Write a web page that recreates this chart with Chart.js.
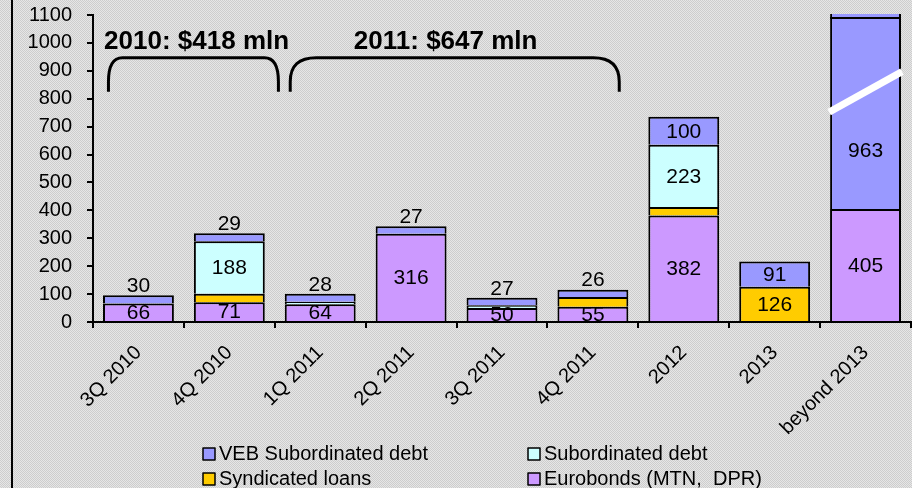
<!DOCTYPE html>
<html><head><meta charset="utf-8">
<script src="https://cdn.jsdelivr.net/npm/chart.js@4"></script>
<style>html,body{margin:0;padding:0;background:#dddddd;}canvas{display:block}</style>
</head><body>
<canvas id="c" width="912" height="488"></canvas>
<script>
// ---- data ----
const categories = ['3Q 2010','4Q 2010','1Q 2011','2Q 2011','3Q 2011','4Q 2011','2012','2013','beyond 2013'];
const eurobonds    = [66, 71, 64, 316, 50, 55, 382, null, 405];
const syndicated   = [null, 30, null, null, null, 35, 30, 126, null];
const subordinated = [null, 188, 9, null, 10, null, 223, null, null];
const vebSub       = [30, 29, 28, 27, 27, 26, 100, 91, 963];
const seriesNames  = ['Eurobonds (MTN,  DPR)', 'Syndicated loans', 'Subordinated debt', 'VEB Subordinated debt'];
const seriesColors = ['#cc99ff', '#ffcc00', '#ccffff', '#9999ff'];
const yMax = 1100, yStep = 100;
const periodTitles = ['2010: $418 mln', '2011: $647 mln'];
const periodFrom   = [-0.33, 1.67];   // category index units
const periodTo     = [1.54, 5.29];
const periodTitleAt = [0.64, 3.38];
const braceLow = 825, braceHigh = 947, titleValue = 1005;
const breakCategory = 'beyond 2013';
const breakFrom = 752, breakTo = 897;

const FONT = "'Liberation Sans', Arial, sans-serif";

function makePattern(ctx){
  const p = document.createElement('canvas'); p.width = 2; p.height = 2;
  const g = p.getContext('2d');
  g.fillStyle = '#e6e6e6'; g.fillRect(0,0,2,2);
  g.fillStyle = '#cdcdcd'; g.fillRect(0,0,1,1); g.fillRect(1,1,1,1);
  return ctx.createPattern(p, 'repeat');
}

const bgPlugin = {
  id: 'bg',
  beforeDraw(chart){
    const ctx = chart.ctx;
    ctx.save();
    ctx.fillStyle = makePattern(ctx);
    ctx.fillRect(0,0,chart.width,chart.height);
    ctx.fillStyle = '#000';
    ctx.fillRect(11,0,2,chart.height);
    ctx.restore();
  }
};

const datasetList = [eurobonds, syndicated, subordinated, vebSub];

const breakPlugin = {
  id: 'breakMark',
  afterDatasetsDraw(chart){
    const idx = categories.indexOf(breakCategory);
    if (idx < 0) return;
    const meta = chart.getDatasetMeta(datasetList.length - 1);
    const bar = meta.data[idx];
    const p = bar.getProps(['x','width'], true);
    const ys = chart.scales.y, area = chart.chartArea;
    const l = p.x - p.width/2, r = p.x + p.width/2;
    const ctx = chart.ctx;
    ctx.save();
    ctx.strokeStyle = '#000'; ctx.lineWidth = 2;
    ctx.beginPath(); ctx.moveTo(l, area.top + 3); ctx.lineTo(r, area.top + 3); ctx.stroke();
    ctx.strokeStyle = '#fff'; ctx.lineWidth = 7; ctx.lineCap = 'butt';
    ctx.beginPath();
    ctx.moveTo(l - 1, ys.getPixelForValue(breakFrom));
    ctx.lineTo(r + 1, ys.getPixelForValue(breakTo));
    ctx.stroke();
    ctx.restore();
  }
};

const labelPlugin = {
  id: 'valueLabels',
  afterDatasetsDraw(chart){
    const ctx = chart.ctx, area = chart.chartArea, ys = chart.scales.y;
    ctx.save();
    ctx.font = '21px ' + FONT;
    ctx.fillStyle = '#000';
    ctx.textAlign = 'center';
    ctx.textBaseline = 'middle';
    const top = datasetList.length - 1;
    chart.data.datasets.forEach((ds, di) => {
      const meta = chart.getDatasetMeta(di);
      meta.data.forEach((bar, i) => {
        const v = ds.data[i];
        if (v == null) return;
        const p = bar.getProps(['x','y','base'], true);
        let ty;
        if (di === top && v < 40) {
          ty = p.y - 10;
        } else if (v >= 40) {
          let t = p.y;
          if (t < area.top && categories[i] === breakCategory) {
            t = ys.getPixelForValue((breakFrom + breakTo) / 2);
          }
          ty = (t + p.base) / 2;
        } else return;
        ctx.fillText(String(v), p.x, ty + 1);
      });
    });
    ctx.restore();
  }
};

const annotPlugin = {
  id: 'periods',
  afterDraw(chart){
    const ctx = chart.ctx, xs = chart.scales.x, ys = chart.scales.y;
    ctx.save();
    ctx.strokeStyle = '#000'; ctx.lineWidth = 3; ctx.lineJoin = 'round';
    const yb = ys.getPixelForValue(braceLow), yt = ys.getPixelForValue(braceHigh);
    periodTitles.forEach((t, k) => {
      const x1 = xs.getPixelForValue(periodFrom[k]), x2 = xs.getPixelForValue(periodTo[k]);
      const rx = k === 0 ? 14 : 26, ry = 24;
      ctx.beginPath();
      ctx.moveTo(x1, yb);
      ctx.lineTo(x1, yt + ry);
      ctx.quadraticCurveTo(x1, yt, x1 + rx, yt);
      ctx.lineTo(x2 - rx, yt);
      ctx.quadraticCurveTo(x2, yt, x2, yt + ry);
      ctx.lineTo(x2, yb);
      ctx.stroke();
      ctx.font = 'bold 26px ' + FONT;
      ctx.fillStyle = '#000';
      ctx.textAlign = 'center'; ctx.textBaseline = 'middle';
      ctx.fillText(t, xs.getPixelForValue(periodTitleAt[k]), ys.getPixelForValue(titleValue));
    });
    const order = [3, 2, 1, 0];
    const colX = [203, 528], rowY = [454, 479];
    ctx.font = '20px ' + FONT;
    ctx.textAlign = 'left'; ctx.textBaseline = 'middle';
    order.forEach((di, n) => {
      const cx = colX[n % 2], cy = rowY[Math.floor(n / 2)];
      ctx.fillStyle = seriesColors[di];
      ctx.fillRect(cx, cy - 6, 12, 12);
      ctx.lineWidth = 1.5; ctx.strokeStyle = '#000';
      ctx.strokeRect(cx, cy - 6, 12, 12);
      ctx.fillStyle = '#000';
      ctx.fillText(seriesNames[di], cx + 16, cy);
    });
    ctx.restore();
  }
};

new Chart(document.getElementById('c'), {
  type: 'bar',
  data: {
    labels: categories,
    datasets: datasetList.map((d, k) => ({
      label: seriesNames[k],
      data: d,
      backgroundColor: seriesColors[k],
      borderColor: '#000',
      borderWidth: {top: 2, left: 2, right: 2, bottom: 0},
      borderSkipped: false,
      barPercentage: 0.78,
      categoryPercentage: 1,
      clip: {left: 0, right: 0, top: 1, bottom: 0}
    }))
  },
  options: {
    responsive: false,
    animation: false,
    layout: {padding: {left: 12, right: 1, top: 15, bottom: 0}},
    plugins: {legend: {display: false}, tooltip: {enabled: false}},
    scales: {
      x: {
        stacked: true,
        z: 1,
        grid: {drawOnChartArea: false, drawTicks: true, tickLength: 6, color: '#000', lineWidth: 2},
        border: {color: '#000', width: 2},
        ticks: {color: '#000', font: {family: FONT, size: 20}, minRotation: 45, maxRotation: 45, autoSkip: false, padding: 13},
        afterFit(s){ s.height = 166; }
      },
      y: {
        stacked: true,
        z: 1,
        min: 0, max: yMax,
        grid: {drawOnChartArea: false, drawTicks: true, tickLength: 6, color: '#000', lineWidth: 2},
        border: {color: '#000', width: 2},
        ticks: {color: '#000', stepSize: yStep, autoSkip: false, font: {family: FONT, size: 20}, padding: 15,
                callback: v => String(v)},
        afterFit(s){ s.width = 81; s.paddingTop = 10; s.paddingBottom = 10; }
      }
    }
  },
  plugins: [bgPlugin, breakPlugin, labelPlugin, annotPlugin]
});
</script>
</body></html>
